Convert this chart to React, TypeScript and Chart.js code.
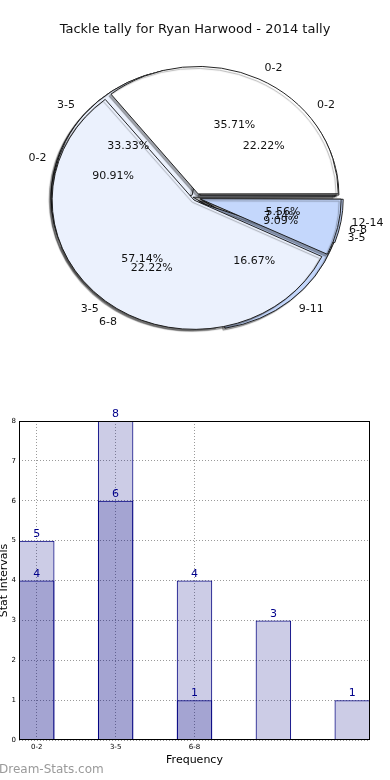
import React, { useEffect, useRef } from 'react';
import { Chart, registerables } from 'chart.js';

Chart.register(...registerables);
Chart.defaults.font.family = "'DejaVu Sans', sans-serif";

// ---------- data ----------
const pieTitle = 'Tackle tally for Ryan Harwood - 2014 tally';

const pieLabelsA = ['0-2', '3-5', '6-8'];
const pieValuesA = [5, 8, 1];
const pieLabelsB = ['0-2', '3-5', '6-8', '9-11', '12-14'];
const pieValuesB = [4, 6, 4, 3, 1];
const pieLabelsC = ['0-2', '3-5'];
const pieValuesC = [10, 1];

const barCategories = ['0-2', '3-5', '6-8', '9-11', '12-14'];
const barTickLabels = ['0-2', '3-5', '6-8'];
const seriesDark = [4, 6, 1];
const seriesLight = [5, 8, 4, 3, 1];
const yTickValues = [0, 1, 2, 3, 4, 5, 6, 7, 8];

const xAxisTitle = 'Frequency';
const yAxisTitle = 'Stat Intervals';
const watermark = 'Dream-Stats.com';

// ---------- styles ----------
const WHITE = '#ffffff';
const LIGHT = '#ebf1fd';
const BLUE = '#c4d7fc';
const SQUASH = 0.91;
const PIE_RADIUS = 139;

const pieLabelSets = [pieLabelsA, pieLabelsB, pieLabelsC];
const pieValueSets = [pieValuesA, pieValuesB, pieValuesC];

function PieChart() {
  const ref = useRef<HTMLCanvasElement>(null);
  useEffect(() => {
    const plugin = {
      id: 'ellipsePie',
      afterUpdate(chart: any) {
        const metas = chart.getSortedVisibleDatasetMetas();
        const R = metas[0].controller.outerRadius;
        metas.forEach((m: any) =>
          m.data.forEach((arc: any) => {
            arc.outerRadius = R;
            arc.innerRadius = 0;
          })
        );
      },
      beforeDatasetsDraw(chart: any) {
        const ctx = chart.ctx;
        const arc = chart.getDatasetMeta(0).data[0];
        const cx = arc.x;
        const cy = arc.y;
        ctx.save();
        ctx.translate(cx, cy);
        ctx.scale(1, -SQUASH);
        ctx.translate(-cx, -cy);
        ctx.shadowColor = 'rgba(0,0,0,0.32)';
        ctx.shadowOffsetX = -2;
        ctx.shadowOffsetY = 2;
        ctx.shadowBlur = 1;
      },
      afterDatasetsDraw(chart: any) {
        chart.ctx.restore();
      },
      afterDraw(chart: any) {
        const ctx = chart.ctx;
        ctx.save();
        ctx.fillStyle = '#111';
        ctx.font = "13px 'DejaVu Sans'";
        ctx.textAlign = 'center';
        ctx.textBaseline = 'middle';
        ctx.fillText(pieTitle, 195, 30);

        ctx.font = "11px 'DejaVu Sans'";
        const metas = chart.getSortedVisibleDatasetMetas();
        metas.forEach((meta: any) => {
          const labels = pieLabelSets[meta.index];
          const vals = pieValueSets[meta.index];
          const total = vals.reduce((a, b) => a + b, 0);
          meta.data.forEach((arc: any, i: number) => {
            const mid = (arc.startAngle + arc.endAngle) / 2;
            const off = (arc.options.offset || 0) / 4;
            const R = arc.outerRadius;
            const c = Math.cos(mid);
            const s = Math.sin(mid);
            const px = (d: number) => arc.x + c * (off + d);
            const py = (d: number) => arc.y - SQUASH * s * (off + d);
            ctx.textAlign = c > 0 ? 'left' : 'right';
            ctx.textBaseline = 'middle';
            ctx.fillText(labels[i], px(1.1 * R), py(1.1 * R));
            ctx.textAlign = 'center';
            const pct = ((vals[i] / total) * 100).toFixed(2) + '%';
            ctx.fillText(pct, px(0.6 * R), py(0.6 * R));
          });
        });
        ctx.restore();
      },
    };

    const common = { borderColor: '#1a1a1a', borderWidth: 1, clip: false as any };
    const chart = new Chart(ref.current!, {
      type: 'pie',
      data: {
        labels: barCategories,
        datasets: [
          { data: pieValuesA, backgroundColor: [WHITE, LIGHT, BLUE], offset: [20, 12, 16], ...common },
          { data: pieValuesB, backgroundColor: [WHITE, LIGHT, LIGHT, BLUE, BLUE], offset: [20, 20, 20, 28, 20], ...common },
          { data: pieValuesC, backgroundColor: [LIGHT, WHITE], offset: [12, 20], ...common },
        ],
      },
      options: {
        animation: false,
        responsive: false,
        events: [],
        rotation: 90,
        radius: PIE_RADIUS,
        layout: { padding: { left: 2, right: 0, top: 30, bottom: 4 } },
        plugins: { legend: { display: false }, tooltip: { enabled: false }, title: { display: false } },
      } as any,
      plugins: [plugin],
    });
    return () => chart.destroy();
  }, []);
  return <canvas ref={ref} width={390} height={370} style={{ position: 'absolute', left: 0, top: 0 }} />;
}

function BarChart() {
  const ref = useRef<HTMLCanvasElement>(null);
  useEffect(() => {
    const NAVY = '#000080';
    const plugin = {
      id: 'barExtras',
      afterDatasetsDraw(chart: any) {
        const ctx = chart.ctx;
        const a = chart.chartArea;
        ctx.save();
        ctx.strokeStyle = '#000';
        ctx.lineWidth = 1;
        ctx.strokeRect(Math.round(a.left) + 0.5, Math.round(a.top) + 0.5, Math.round(a.right - a.left) - 1, Math.round(a.bottom - a.top) - 1);
        ctx.fillStyle = '#00008b';
        ctx.font = "11px 'DejaVu Sans'";
        ctx.textAlign = 'center';
        ctx.textBaseline = 'bottom';
        chart.getSortedVisibleDatasetMetas().forEach((meta: any) => {
          const ds = chart.data.datasets[meta.index];
          meta.data.forEach((bar: any, i: number) => {
            ctx.fillText(String(ds.data[i].y), bar.x, bar.y - 1);
          });
        });
        ctx.fillStyle = '#9a9a9a';
        ctx.font = "12px 'DejaVu Sans'";
        ctx.textAlign = 'left';
        ctx.textBaseline = 'middle';
        ctx.fillText(watermark, -1, 370);
        ctx.restore();
      },
    };
    const barStyle = {
      backgroundColor: 'rgba(0,0,128,0.2)',
      borderColor: NAVY,
      borderWidth: 1,
      grouped: false,
      barPercentage: 0.45,
      categoryPercentage: 1,
    };
    const chart = new Chart(ref.current!, {
      type: 'bar',
      data: {
        datasets: [
          { data: seriesDark.map((v, i) => ({ x: i, y: v })), ...barStyle },
          { data: seriesLight.map((v, i) => ({ x: i, y: v })), ...barStyle },
        ],
      },
      options: {
        animation: false,
        responsive: false,
        events: [],
        layout: { padding: { left: 0, right: 20, top: 21, bottom: 0 } },
        plugins: { legend: { display: false }, tooltip: { enabled: false } },
        scales: {
          x: {
            type: 'linear',
            min: -0.225,
            max: barCategories.length - 1 + 0.225,
            offset: false,
            afterBuildTicks: (s: any) => {
              s.ticks = barTickLabels.map((_, i) => ({ value: i }));
            },
            afterFit: (s: any) => {
              s.height = 40;
            },
            ticks: {
              autoSkip: false,
              maxRotation: 0,
              padding: 3,
              color: '#000',
              font: { size: 7 },
              callback: (v: any) => barTickLabels[v] ?? '',
            },
            grid: { color: '#9a9a9a', drawTicks: false, offset: false },
            border: { display: false, dash: [1, 2] },
            title: { display: true, text: xAxisTitle, color: '#000', font: { size: 11 }, padding: { top: 0, bottom: 13 } },
          },
          y: {
            min: 0,
            max: 8,
            afterBuildTicks: (s: any) => {
              s.ticks = yTickValues.map((v) => ({ value: v }));
            },
            afterFit: (s: any) => {
              s.width = 19;
            },
            ticks: { padding: 3, color: '#000', font: { size: 7 } },
            grid: { color: '#9a9a9a', drawTicks: false },
            border: { display: false, dash: [1, 2] },
            title: { display: true, text: yAxisTitle, color: '#000', font: { size: 11 }, padding: { top: -2, bottom: 0 } },
          },
        },
      } as any,
      plugins: [plugin],
    });
    return () => chart.destroy();
  }, []);
  return <canvas ref={ref} width={390} height={380} style={{ position: 'absolute', left: 0, top: 400 }} />;
}

export default function App() {
  return (
    <div style={{ position: 'absolute', left: 0, top: 0, width: 390, height: 780, background: '#fff' }}>
      <PieChart />
      <BarChart />
    </div>
  );
}
